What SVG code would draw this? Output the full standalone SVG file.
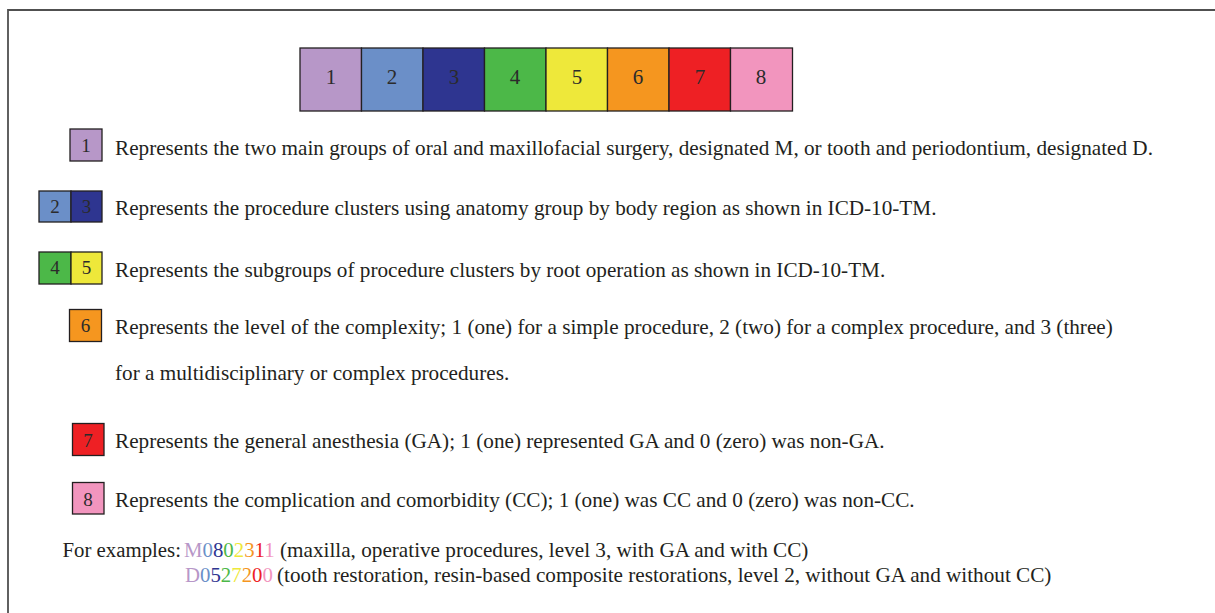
<svg xmlns="http://www.w3.org/2000/svg" width="1215" height="613" viewBox="0 0 1215 613">
<style>
.t{font-family:"Liberation Serif","Times New Roman",serif;font-size:21.2px;fill:#231f20}
.e{font-family:"Liberation Serif","Times New Roman",serif;font-size:20.8px;fill:#231f20}
.r{font-family:"Liberation Serif","Times New Roman",serif;font-size:21.2px;fill:#231f20}
.n{font-family:"Liberation Serif","Times New Roman",serif;font-size:19px;fill:#2b2b2b;text-anchor:middle}
.nb{font-family:"Liberation Serif","Times New Roman",serif;font-size:21px;fill:#2b2b2b;text-anchor:middle}
.b{stroke:#231f20;stroke-width:1.3}
.c1{fill:#b797c8}.c2{fill:#6b8fc8}.c3{fill:#2e3590}.c4{fill:#4cb848}
.c5{fill:#eee83a}.c6{fill:#f5961f}.c7{fill:#ee2024}.c8{fill:#f295be}
</style>
<rect width="1215" height="613" fill="#fff"/>
<path d="M8,613 V10 H1215" fill="none" stroke="#505050" stroke-width="1.8"/>
<g id="bar">
<rect class="b c1" x="300" y="48" width="61.5" height="63"/>
<rect class="b c2" x="361.5" y="48" width="61.5" height="63"/>
<rect class="b c3" x="423" y="48" width="61.5" height="63"/>
<rect class="b c4" x="484.5" y="48" width="61.5" height="63"/>
<rect class="b c5" x="546" y="48" width="61.5" height="63"/>
<rect class="b c6" x="607.5" y="48" width="61.5" height="63"/>
<rect class="b c7" x="669" y="48" width="61.5" height="63"/>
<rect class="b c8" x="730.5" y="48" width="62" height="63"/>
<text class="nb" x="331" y="84">1</text>
<text class="nb" x="392" y="84">2</text>
<text class="nb" x="454" y="84">3</text>
<text class="nb" x="515" y="84">4</text>
<text class="nb" x="577" y="84">5</text>
<text class="nb" x="638" y="84">6</text>
<text class="nb" x="700" y="84">7</text>
<text class="nb" x="761" y="84">8</text>
</g>
<g id="item1">
<rect class="b c1" x="70" y="129" width="32" height="32"/>
<text class="n" x="86" y="151.5">1</text>
<text class="t" x="115" y="154.5">Represents the two main groups of oral and maxillofacial surgery, designated M, or tooth and periodontium, designated D.</text>
</g>
<g id="item23">
<rect class="b c2" x="39" y="191" width="32" height="31"/>
<rect class="b c3" x="71" y="191" width="31" height="31"/>
<text class="n" x="55" y="212.5">2</text>
<text class="n" x="86.5" y="212.5">3</text>
<text class="t" x="115" y="215">Represents the procedure clusters using anatomy group by body region as shown in ICD-10-TM.</text>
</g>
<g id="item45">
<rect class="b c4" x="39" y="252" width="32" height="32"/>
<rect class="b c5" x="71" y="252" width="31" height="32"/>
<text class="n" x="55" y="274">4</text>
<text class="n" x="86.5" y="274">5</text>
<text class="t" x="115" y="276.5">Represents the subgroups of procedure clusters by root operation as shown in ICD-10-TM.</text>
</g>
<g id="item6">
<rect class="b c6" x="69.5" y="309.5" width="32" height="32"/>
<text class="n" x="85.5" y="331.5">6</text>
<text class="t" x="115" y="333.5">Represents the level of the complexity; 1 (one) for a simple procedure, 2 (two) for a complex procedure, and 3 (three)</text>
<text class="t" x="115" y="380">for a multidisciplinary or complex procedures.</text>
</g>
<g id="item7">
<rect class="b c7" x="72.5" y="423.5" width="31.5" height="32"/>
<text class="n" x="88" y="446.5">7</text>
<text class="t" x="115" y="447.5">Represents the general anesthesia (GA); 1 (one) represented GA and 0 (zero) was non-GA.</text>
</g>
<g id="item8">
<rect class="b c8" x="72.5" y="482.5" width="31.5" height="31.5"/>
<text class="n" x="88" y="505.5">8</text>
<text class="t" x="115" y="506.5">Represents the complication and comorbidity (CC); 1 (one) was CC and 0 (zero) was non-CC.</text>
</g>
<g id="examples">
<text class="e" x="62.5" y="556.5">For examples:</text>
<text class="e" x="184" y="556.5"><tspan class="c1">M</tspan><tspan class="c2">0</tspan><tspan class="c3">8</tspan><tspan class="c4">0</tspan><tspan class="c5">2</tspan><tspan class="c6">3</tspan><tspan class="c7">1</tspan><tspan class="c8">1</tspan></text>
<text class="r" x="280" y="556.5">(maxilla, operative procedures, level 3, with GA and with CC)</text>
<text class="e" x="185" y="582"><tspan class="c1">D</tspan><tspan class="c2">0</tspan><tspan class="c3">5</tspan><tspan class="c4">2</tspan><tspan class="c5">7</tspan><tspan class="c6">2</tspan><tspan class="c7">0</tspan><tspan class="c8">0</tspan></text>
<text class="r" x="277" y="582">(tooth restoration, resin-based composite restorations, level 2, without GA and without CC)</text>
</g>
</svg>
